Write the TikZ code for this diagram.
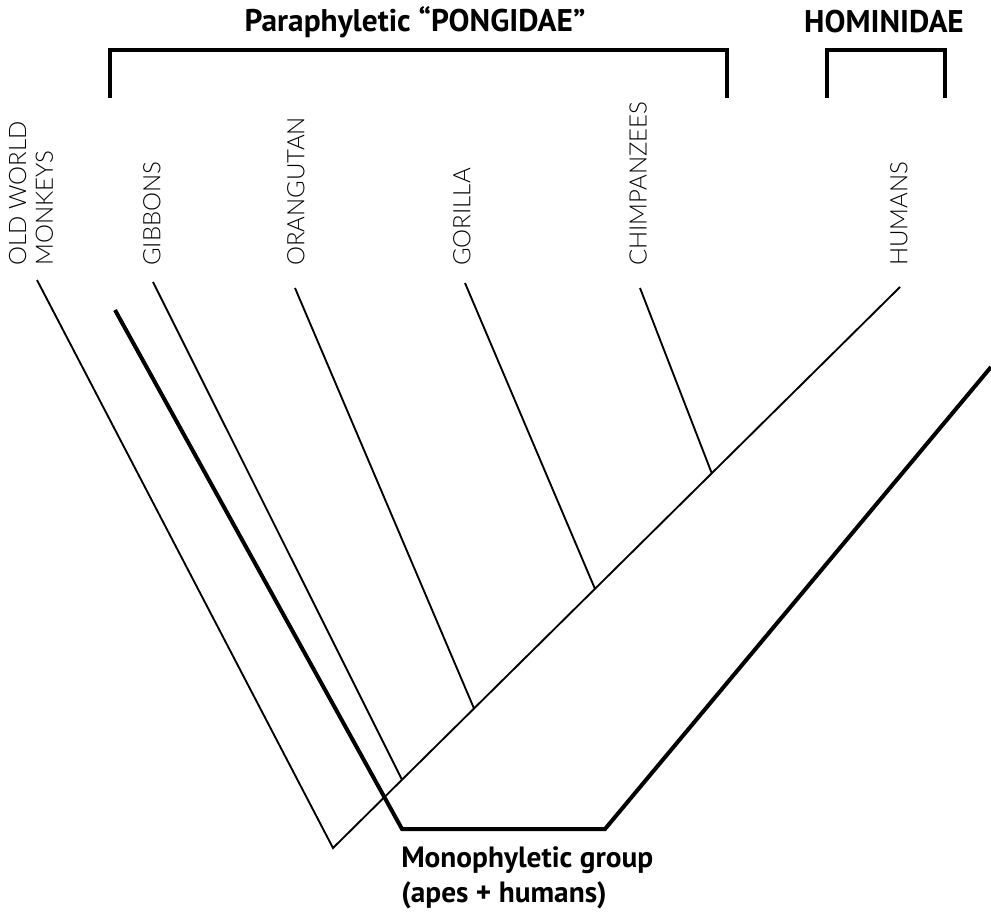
\documentclass[tikz,border=0pt]{standalone}
\usepackage{fontspec}
\newfontfamily\labfont{Lato}[UprightFont=* Light]
\newfontfamily\titlefont{PT Sans}
\usetikzlibrary{calc}
\begin{document}
\begin{tikzpicture}[x=0.75pt,y=-0.75pt,
  thin/.style={line width=1.4pt},
  thick/.style={line width=3pt},
  taxon/.style={rotate=90,anchor=west,inner sep=0pt,font=\labfont\fontsize{18}{20}\selectfont,align=left},
  title/.style={inner sep=0pt,font=\titlefont\bfseries\fontsize{23.5}{26}\selectfont,align=left}]
\useasboundingbox (0,0) rectangle (991,913);
% titles
\node[title] (pong) at (415,22) {Paraphyletic “PONGIDAE”};
\node[title] (homt) at (884,22) {HOMINIDAE};
\node[title,anchor=north west,font=\titlefont\bfseries\fontsize{22}{26.25}\selectfont] (mono) at (401,846) {Monophyletic group\\(apes + humans)};
% brackets
\draw[thick] (110,98) -- (110,50) -- (727,50) -- (727,98);
\draw[thick] (827,98) -- (827,50) -- (945,50) -- (945,98);
% taxon labels
\node[taxon] (owm) at (31,266) {OLD WORLD\\MONKEYS};
\node[taxon] (gib) at (152,266) {GIBBONS};
\node[taxon] (ora) at (296,266) {ORANGUTAN};
\node[taxon] (gor) at (462,266) {GORILLA};
\node[taxon] (chi) at (638,266) {CHIMPANZEES};
\node[taxon] (hum) at (899,266) {HUMANS};
% tree
\coordinate (root) at (333,848);
\coordinate (humtop) at (900,287);
\coordinate (owmtop) at (37,280);
\coordinate (gibtop) at (153,282);
\coordinate (oratop) at (295,288);
\coordinate (gortop) at (465,283);
\coordinate (chitop) at (640,288);
\coordinate (gibb) at ($(root)!0.1217!(humtop)$);
\coordinate (orab) at ($(root)!0.2487!(humtop)$);
\coordinate (gorb) at ($(root)!0.462!(humtop)$);
\coordinate (chib) at ($(root)!0.668!(humtop)$);
\draw[thin] (owmtop) -- (root) -- (humtop);
\draw[thin] (gibtop) -- (gibb);
\draw[thin] (oratop) -- (orab);
\draw[thin] (gortop) -- (gorb);
\draw[thin] (chitop) -- (chib);
% monophyletic outline
\coordinate (m1) at (115,310);
\coordinate (m2) at (402,829);
\coordinate (m3) at (605,829);
\coordinate (m4) at (991,367);
\draw[thick] (m1) -- (m2) -- (m3) -- (m4);
\end{tikzpicture}
\end{document}
